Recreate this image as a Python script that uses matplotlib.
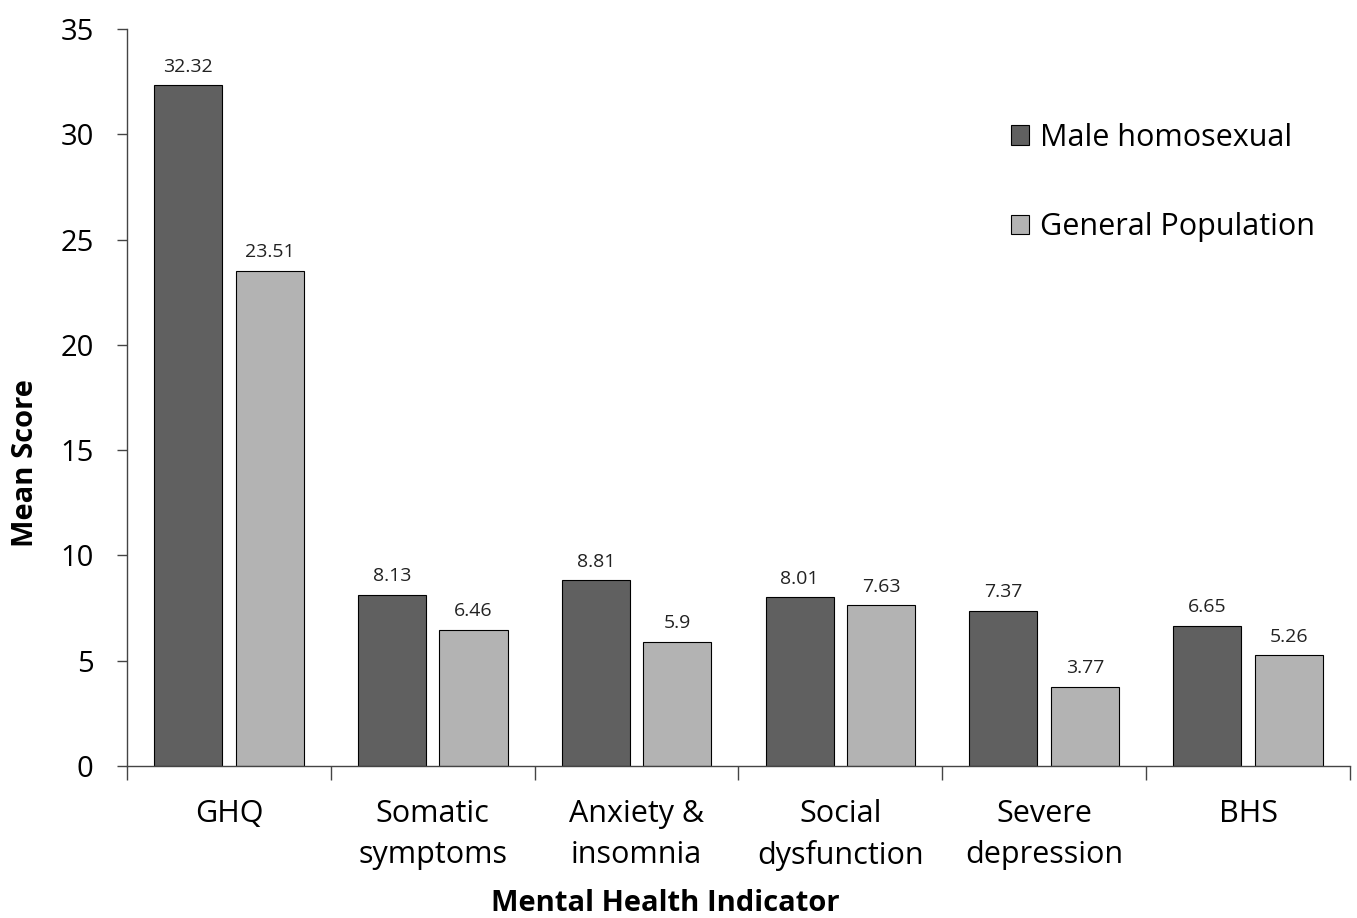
import matplotlib.pyplot as plt
import numpy as np

categories = ["GHQ", "Somatic\nsymptoms", "Anxiety &\ninsomnia", "Social\ndysfunction",
              "Severe\ndepression", "BHS"]
male_homosexual = [32.32, 8.13, 8.81, 8.01, 7.37, 6.65]
general_population = [23.51, 6.46, 5.9, 7.63, 3.77, 5.26]
series_names = ["Male homosexual", "General Population"]

plt.rcParams['font.family'] = ['Open Sans', 'DejaVu Sans']

fig = plt.figure(figsize=(13.57, 9.18), dpi=100)
ax = fig.add_axes([0.0936, 0.1656, 0.9012, 0.8028])

x = np.arange(len(categories))
w = 0.334
off = 0.2
b1 = ax.bar(x - off, male_homosexual, w, color="#606060", edgecolor="black",
            linewidth=0.8, label=series_names[0])
b2 = ax.bar(x + off, general_population, w, color="#b3b3b3", edgecolor="black",
            linewidth=0.8, label=series_names[1])

for bars, vals in ((b1, male_homosexual), (b2, general_population)):
    for r, v in zip(bars, vals):
        ax.annotate(f"{v:g}", (r.get_x() + r.get_width() / 2, v),
                    xytext=(0, 7), textcoords="offset points",
                    ha="center", va="bottom", fontsize=14, color="#222222")

ax.set_xlim(-0.5, len(categories) - 0.5)
ax.set_ylim(0, 35)
ax.set_yticks(np.arange(0, 36, 5))
ax.tick_params(axis="y", labelsize=21, length=7, width=1, color="#444444", pad=17)

ax.set_xticks(np.arange(-0.5, len(categories), 1))
ax.set_xticklabels([])
ax.tick_params(axis="x", which="major", length=10, width=1, color="#444444")
ax.set_xticks(x, minor=True)
ax.set_xticklabels(categories, minor=True, fontsize=22, linespacing=1.45)
ax.tick_params(axis="x", which="minor", length=0, pad=24)

for s in ("top", "right"):
    ax.spines[s].set_visible(False)
for s in ("left", "bottom"):
    ax.spines[s].set_color("#444444")
    ax.spines[s].set_linewidth(1)

ax.set_ylabel("Mean Score", fontsize=21, fontweight="bold")
ax.yaxis.set_label_coords(-0.071, 0.411)
ax.set_xlabel("Mental Health Indicator", fontsize=21, fontweight="bold")
ax.xaxis.set_label_coords(0.44, -0.167)

ax.legend(loc="upper left", bbox_to_anchor=(0.70, 0.91), frameon=False,
          fontsize=22, labelspacing=1.95, handlelength=0.6, handleheight=0.6,
          handletextpad=0.35)

fig.savefig("out.png", dpi=100)
